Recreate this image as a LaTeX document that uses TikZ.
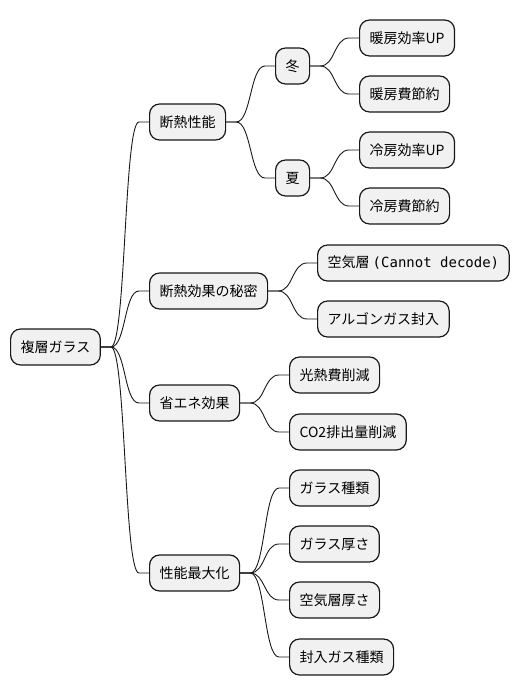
\documentclass[tikz,border=0pt]{standalone}
\usepackage{fontspec}
\setmainfont{Noto Sans CJK JP}
\newfontfamily\mymono{DejaVu Sans Mono}
\usetikzlibrary{calc}
\definecolor{nodefill}{HTML}{F1F1F1}
\definecolor{nodeline}{HTML}{181818}
\tikzset{
  mm/.style={draw=nodeline, fill=nodefill, line width=1.2pt, rounded corners=10pt,
    minimum height=36pt, inner xsep=10pt, inner ysep=0pt, anchor=west,
    font=\fontsize{14pt}{16pt}\selectfont, text=black},
  conn/.style={draw=nodeline, line width=0.9pt}
}
\newcommand\linkto[2]{\draw[conn] (#1.east) -- ($(#1.east)+(10,0)$) .. controls ($(#1.east)+(25,0)$) and ($(#2.west)+(-25,0)$) .. ($(#2.west)+(-10,0)$) -- (#2.west);}
\begin{document}
\begin{tikzpicture}[x=1pt,y=-1pt]
\useasboundingbox (0,0) rectangle (521,696);
\node[mm] (root) at (10,347) {複層ガラス};
\node[mm] (a) at (149,122) {断熱性能};
\node[mm] (a1) at (275,66) {冬};
\node[mm] (a2) at (275,178) {夏};
\node[mm] (a11) at (359,38) {暖房効率UP};
\node[mm] (a12) at (359,94) {暖房費節約};
\node[mm] (a21) at (359,150) {冷房効率UP};
\node[mm] (a22) at (359,206) {冷房費節約};
\node[mm] (b) at (149,291) {断熱効果の秘密};
\node[mm] (b1) at (317,263) {空気層 {\mymono(Cannot decode)}};
\node[mm] (b2) at (317,319) {アルゴンガス封入};
\node[mm] (c) at (149,403) {省エネ効果};
\node[mm] (c1) at (289,375) {光熱費削減};
\node[mm] (c2) at (289,432) {CO2排出量削減};
\node[mm] (d) at (149,573) {性能最大化};
\node[mm] (d1) at (289,488) {ガラス種類};
\node[mm] (d2) at (289,544) {ガラス厚さ};
\node[mm] (d3) at (289,600) {空気層厚さ};
\node[mm] (d4) at (289,657) {封入ガス種類};
\linkto{root}{a}
\linkto{root}{b}
\linkto{root}{c}
\linkto{root}{d}
\linkto{a}{a1}
\linkto{a}{a2}
\linkto{a1}{a11}
\linkto{a1}{a12}
\linkto{a2}{a21}
\linkto{a2}{a22}
\linkto{b}{b1}
\linkto{b}{b2}
\linkto{c}{c1}
\linkto{c}{c2}
\linkto{d}{d1}
\linkto{d}{d2}
\linkto{d}{d3}
\linkto{d}{d4}
\end{tikzpicture}
\end{document}
